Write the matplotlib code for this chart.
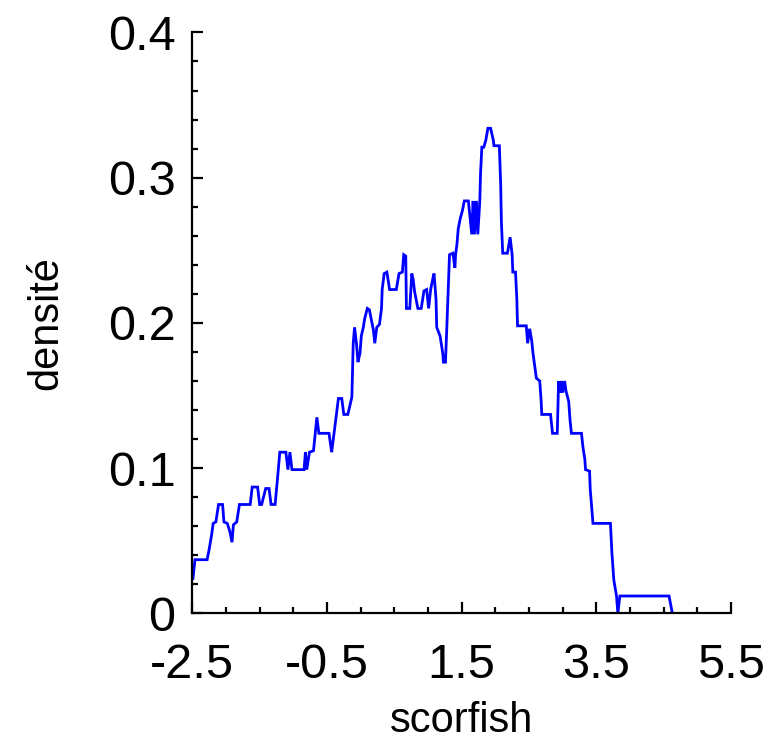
import matplotlib
matplotlib.use("Agg")
import matplotlib.pyplot as plt
from matplotlib.ticker import MultipleLocator, FixedLocator

plt.rcParams['font.family'] = ['Liberation Sans', 'DejaVu Sans']

# density curve (step-like moving window estimate)
scorfish = [-2.49, -2.46, -2.28, -2.25, -2.21, -2.19, -2.15, -2.11, -2.05, -2.03,
            -1.98, -1.94, -1.91, -1.89, -1.84, -1.80, -1.64, -1.61, -1.53, -1.50,
            -1.47, -1.41, -1.36, -1.33, -1.27, -1.24, -1.20, -1.11, -1.08, -1.05,
            -1.02, -0.84, -0.82, -0.80, -0.76, -0.70, -0.65, -0.62, -0.47, -0.43,
            -0.33, -0.28, -0.25, -0.19, -0.13, -0.11, -0.09, -0.06, -0.04, -0.01,
            0.01, 0.04, 0.06, 0.10, 0.13, 0.16, 0.19, 0.21, 0.24, 0.28,
            0.31, 0.32, 0.35, 0.39, 0.43, 0.53, 0.57, 0.62, 0.64, 0.67,
            0.68, 0.73, 0.76, 0.78, 0.80, 0.85, 0.90, 0.94, 0.98, 1.01,
            1.04, 1.07, 1.09, 1.12, 1.13, 1.18, 1.22, 1.23, 1.26, 1.28,
            1.30, 1.32, 1.37, 1.40, 1.41, 1.43, 1.45, 1.48, 1.51, 1.54,
            1.60, 1.63, 1.65, 1.67, 1.69, 1.72, 1.74, 1.77, 1.78, 1.80,
            1.83, 1.86, 1.89, 1.93, 1.97, 1.98, 2.06, 2.08, 2.09, 2.11,
            2.18, 2.22, 2.25, 2.26, 2.30, 2.32, 2.33, 2.46, 2.48, 2.51,
            2.54, 2.56, 2.58, 2.61, 2.66, 2.68, 2.69, 2.82, 2.85, 2.92,
            2.94, 2.96, 2.98, 3.00, 3.03, 3.05, 3.09, 3.11, 3.13, 3.28,
            3.30, 3.33, 3.34, 3.40, 3.41, 3.43, 3.45, 3.71, 3.73, 3.76,
            3.80, 3.82, 3.85, 3.87, 4.58, 4.63, 5.50]
densite = [0.024, 0.037, 0.037, 0.044, 0.055, 0.062, 0.063, 0.075, 0.075, 0.063,
           0.062, 0.056, 0.049, 0.061, 0.063, 0.075, 0.075, 0.087, 0.087, 0.075,
           0.075, 0.086, 0.086, 0.075, 0.075, 0.090, 0.111, 0.111, 0.099, 0.111,
           0.099, 0.099, 0.111, 0.099, 0.111, 0.112, 0.135, 0.124, 0.124, 0.111,
           0.148, 0.148, 0.137, 0.137, 0.149, 0.186, 0.197, 0.185, 0.173, 0.179,
           0.191, 0.197, 0.203, 0.210, 0.209, 0.202, 0.195, 0.186, 0.197, 0.199,
           0.210, 0.223, 0.234, 0.235, 0.223, 0.223, 0.234, 0.235, 0.247, 0.246,
           0.210, 0.210, 0.234, 0.230, 0.222, 0.210, 0.210, 0.222, 0.223, 0.210,
           0.223, 0.230, 0.234, 0.216, 0.197, 0.191, 0.179, 0.173, 0.173, 0.197,
           0.223, 0.247, 0.248, 0.238, 0.247, 0.254, 0.265, 0.272, 0.277, 0.284,
           0.284, 0.270, 0.261, 0.284, 0.261, 0.284, 0.261, 0.284, 0.302, 0.321,
           0.321, 0.326, 0.334, 0.334, 0.326, 0.322, 0.322, 0.295, 0.270, 0.248,
           0.248, 0.259, 0.247, 0.235, 0.235, 0.216, 0.198, 0.198, 0.186, 0.196,
           0.188, 0.179, 0.172, 0.162, 0.160, 0.147, 0.137, 0.137, 0.124, 0.124,
           0.160, 0.152, 0.160, 0.152, 0.160, 0.153, 0.146, 0.133, 0.124, 0.124,
           0.115, 0.106, 0.099, 0.098, 0.085, 0.074, 0.062, 0.062, 0.043, 0.023,
           0.012, 0.0, 0.012, 0.012, 0.012, 0.0, 0.0]

xticks = [-2.5, -0.5, 1.5, 3.5, 5.5]
xtick_labels = ['-2.5', '-0.5', '1.5', '3.5', '5.5']
yticks = [0, 0.1, 0.2, 0.3, 0.4]
ytick_labels = ['0', '0.1', '0.2', '0.3', '0.4']

fig = plt.figure(figsize=(7.71, 7.49), dpi=100)
ax = fig.add_axes([0.2494, 0.181, 0.6987, 0.7757])

ax.plot(scorfish, densite, color='#0000ff', linewidth=2.0, solid_joinstyle='miter')

ax.set_xlim(-2.5, 5.5)
ax.set_ylim(0, 0.4)
ax.xaxis.set_major_locator(FixedLocator(xticks))
ax.xaxis.set_minor_locator(MultipleLocator(0.5))
ax.yaxis.set_major_locator(FixedLocator(yticks))
ax.yaxis.set_minor_locator(MultipleLocator(0.02))
ax.set_yticklabels(ytick_labels)
ax.set_xticklabels(xtick_labels)

for side in ['top', 'right']:
    ax.spines[side].set_visible(False)
for side in ['left', 'bottom']:
    ax.spines[side].set_linewidth(1.6)

ax.tick_params(which='major', direction='in', length=8, width=1.6, labelsize=35)
ax.tick_params(which='minor', direction='in', length=4.5, width=1.6)
ax.tick_params(axis='y', which='major', pad=12)
ax.tick_params(axis='x', which='major', pad=21)

ax.set_xlabel('scorfish', fontsize=30, labelpad=10)
ax.set_ylabel('densité', fontsize=30, labelpad=30)

fig.savefig('out.png', dpi=100)
